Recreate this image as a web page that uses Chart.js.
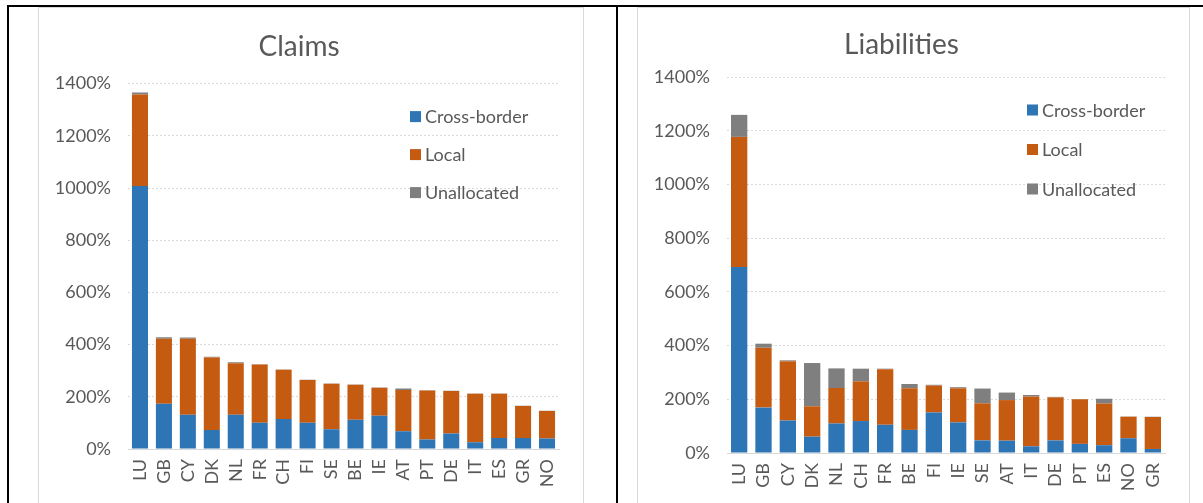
<!DOCTYPE html>
<html lang="en">
<head>
<meta charset="UTF-8">
<title>Claims and liabilities</title>
<script src="https://cdn.jsdelivr.net/npm/chart.js"></script>
<style>
    * { margin: 0; padding: 0; box-sizing: border-box; }
    body { width: 1203px; height: 503px; background: #fff; position: relative; overflow: hidden; font-family: 'Lato', sans-serif; }
    .rule { position: absolute; background: #000; }
    .panel { position: absolute; top: 7px; height: 510px; border: 1px solid #d9d9d9; background: #fff; }
    .panel canvas { display: block; }
</style>
</head>
<body>
    <!-- table lines around the two charts -->
    <div class="rule" style="left:7px; top:5px; width:1196px; height:2px;"></div>
    <div class="rule" style="left:7px; top:5px; width:2px; height:498px;"></div>
    <div class="rule" style="left:616px; top:5px; width:2px; height:498px;"></div>

    <div class="panel" style="left:38px; width:546px;">
        <canvas id="claimsChart" width="544" height="495"></canvas>
    </div>
    <div class="panel" style="left:637px; width:553px;">
        <canvas id="liabChart" width="551" height="495"></canvas>
    </div>

<script>
// Claims (percent)
const claimsCountries = ['LU','GB','CY','DK','NL','FR','CH','FI','SE','BE','IE','AT','PT','DE','IT','ES','GR','NO'];
const claimsCross   = [1008, 173, 131, 73, 131, 101, 115, 101, 76, 112, 127, 68, 36, 59, 26, 42, 42, 40];
const claimsLocal   = [350, 249, 291, 278, 198, 223, 189, 163, 174, 134, 108, 158, 188, 163, 186, 170, 123, 106];
const claimsUnalloc = [8, 6, 5, 2, 3, 1, 1, 1, 1, 1, 1, 6, 1, 1, 1, 1, 1, 1];

// Liabilities (percent)
const liabCountries = ['LU','GB','CY','DK','NL','CH','FR','BE','FI','IE','SE','AT','IT','DE','PT','ES','NO','GR'];
const liabCross   = [693, 169, 121, 61, 110, 119, 105, 86, 151, 114, 47, 46, 25, 47, 34, 29, 55, 15];
const liabLocal   = [484, 223, 221, 113, 132, 148, 207, 155, 100, 127, 138, 151, 185, 160, 166, 155, 80, 119];
const liabUnalloc = [82, 15, 3, 161, 73, 47, 2, 16, 3, 4, 55, 28, 6, 2, 1, 18, 1, 1];

const yTicks = [0, 200, 400, 600, 800, 1000, 1200, 1400];
const seriesNames = ['Cross-border', 'Local', 'Unallocated'];
const seriesColors = ['#2e75b6', '#c55a11', '#7f7f7f'];

const textGrey = '#595959';
Chart.defaults.font.family = 'Lato, sans-serif';
Chart.defaults.color = textGrey;

// legend drawn inside the plot, like the Excel original
const insideLegend = {
    id: 'insideLegend',
    afterDatasetsDraw(chart, args, opts) {
        const { ctx, chartArea } = chart;
        ctx.save();
        ctx.font = '18px Lato, sans-serif';
        ctx.textBaseline = 'middle';
        chart.data.datasets.forEach((ds, i) => {
            const x = chartArea.left + opts.x;
            const y = chartArea.top + opts.y + i * opts.gap;
            ctx.fillStyle = ds.backgroundColor;
            ctx.fillRect(x, y - 5.5, 11, 11);
            ctx.fillStyle = textGrey;
            ctx.fillText(ds.label, x + 15, y + 1);
        });
        ctx.restore();
    }
};

function makeChart(id, title, labels, values, box) {
    const datasets = values.map((v, i) => ({
        label: seriesNames[i],
        data: v,
        backgroundColor: seriesColors[i],
        borderWidth: 0,
        barPercentage: 0.67,
        categoryPercentage: 1.0
    }));

    return new Chart(document.getElementById(id), {
        type: 'bar',
        data: { labels: labels, datasets: datasets },
        plugins: [insideLegend],
        options: {
            responsive: false,
            animation: false,
            layout: { padding: { left: 0, right: 24, top: 0, bottom: 0 } },
            plugins: {
                legend: { display: false },
                tooltip: { enabled: false },
                title: {
                    display: true,
                    text: title,
                    color: textGrey,
                    font: { size: 28, weight: 'normal' },
                    padding: { top: box.titleTop, bottom: box.titleBottom }
                },
                insideLegend: box.legend
            },
            scales: {
                x: {
                    stacked: true,
                    grid: { display: false, drawTicks: false },
                    border: { display: true, color: '#d9d9d9', width: 1 },
                    ticks: {
                        autoSkip: false,
                        maxRotation: 90,
                        minRotation: 90,
                        padding: 10,
                        color: textGrey,
                        font: { size: 18 }
                    },
                    afterFit: (s) => { s.height = box.xHeight; }
                },
                y: {
                    stacked: true,
                    min: 0,
                    max: 1400,
                    afterBuildTicks: (s) => { s.ticks = yTicks.map(v => ({ value: v })); },
                    grid: { color: '#d9d9d9', drawTicks: false },
                    border: { display: false, dash: [2, 2] },
                    ticks: {
                        padding: 17,
                        color: textGrey,
                        font: { size: 18 },
                        callback: (v) => v + '%'
                    },
                    afterFit: (s) => { s.width = 89; }
                }
            }
        }
    });
}

makeChart('claimsChart', 'Claims', claimsCountries,
    [claimsCross, claimsLocal, claimsUnalloc],
    { titleTop: 22, titleBottom: 20, xHeight: 54, legend: { x: 282, y: 33, gap: 38 } });

makeChart('liabChart', 'Liabilities', liabCountries,
    [liabCross, liabLocal, liabUnalloc],
    { titleTop: 20, titleBottom: 15.4, xHeight: 50, legend: { x: 300, y: 33, gap: 39.5 } });
</script>
</body>
</html>
